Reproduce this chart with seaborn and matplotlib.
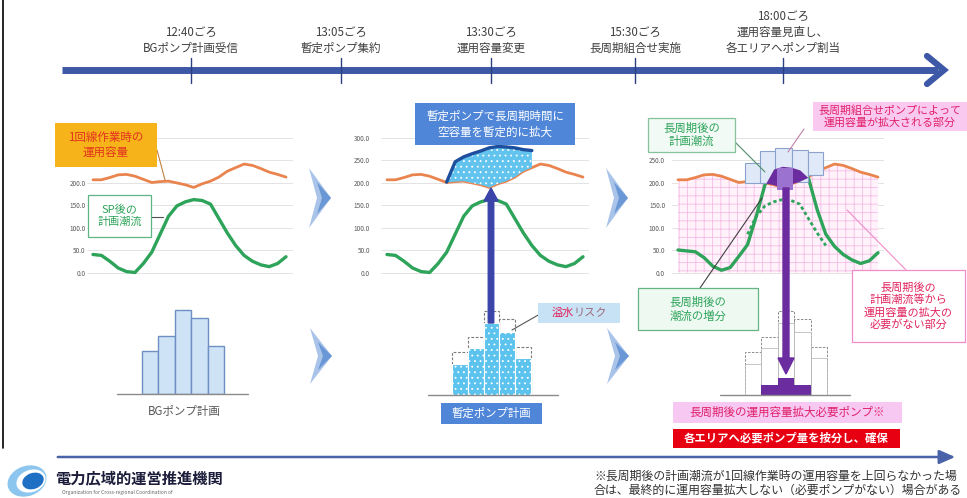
import numpy as np
import pandas as pd
import matplotlib
matplotlib.use("Agg")
import matplotlib.pyplot as plt
import seaborn as sns
from matplotlib.patches import Rectangle, Polygon, FancyArrow, Ellipse

# ---------------- data ----------------
hours = list(range(24))
capacity_1line = [206, 206, 211, 217, 218, 214, 207, 200, 202, 203, 199, 195,
                  189, 197, 203, 212, 225, 233, 241, 238, 231, 223, 218, 212]
flow_sp = [40, 38, 25, 10, 2, 0, 20, 45, 85, 125, 148, 157,
           162, 160, 152, 120, 88, 60, 38, 25, 17, 13, 20, 35]
flow_lp = [50, 48, 46, 33, 14, 5, 11, 36, 62, 125, 195, 230,
           236, 234, 228, 210, 140, 85, 58, 40, 28, 20, 26, 44]
tmp_hours = list(range(7, 18))
tmp_expanded = [201, 246, 257, 264, 270, 277, 280, 279, 277, 273, 271]
dotted_hours = list(range(8, 18))

lp_box_start = [7.7, 9.4, 11.2, 13.1, 14.9]
lp_box_end = [9.8, 11.4, 13.1, 14.9, 16.7]
lp_box_bottom = [198, 200, 196, 202, 216]
lp_box_top = [243, 271, 276, 272, 268]

pump_units = ["U1", "U2", "U3", "U4", "U5"]
bg_plan = [43, 58, 84, 76, 48]
tmp_plan = [31, 47, 72, 63, 37]
lp_need = [0, 10, 17, 10, 0]

y_ticks = [0, 50, 100, 150, 200, 250, 300]

tl_times = ["12:40ごろ", "13:05ごろ", "13:30ごろ", "15:30ごろ", "18:00ごろ"]
tl_events = ["BGポンプ計画受信", "暫定ポンプ集約", "運用容量変更", "長周期組合せ実施",
             "運用容量見直し、\n各エリアへポンプ割当"]

df = pd.DataFrame({"hour": hours, "capacity": capacity_1line,
                   "flow_sp": flow_sp, "flow_lp": flow_lp})
df_tmp = pd.DataFrame({"hour": tmp_hours, "expanded": tmp_expanded,
                       "base": capacity_1line[7:18]})
df_bar = pd.DataFrame({"unit": pump_units, "bg": bg_plan, "tmp": tmp_plan, "need": lp_need})

# ---------------- style ----------------
sns.set_theme(style="white")
plt.rcParams["font.family"] = ["Noto Sans CJK JP", "DejaVu Sans"]
plt.rcParams["hatch.linewidth"] = 0.6

W, H = 967, 498
fig = plt.figure(figsize=(W / 100, H / 100), dpi=100)
fig.patch.set_facecolor("white")

ORANGE = "#ea844f"
GREEN = "#2ea35a"
PURPLE = "#6a2c9f"
NAVY = "#3d58a6"


def px_axes(x0, y0, x1, y1, z=1):
    return fig.add_axes([x0 / W, 1 - y1 / H, (x1 - x0) / W, (y1 - y0) / H], zorder=z)


def line_panel(lx0, lx1, ax0, ax1, pad, covered=()):
    ax = px_axes(ax0, 135.25, ax1, 277)
    step = (lx1 - lx0) / 23
    ax.set_ylim(-10, 305)
    ax.set_yticks(y_ticks)
    # labels that sit under a callout box in the reference are left blank
    ax.set_yticklabels(["" if v in covered else f"{v:.1f}" for v in y_ticks],
                       fontsize=4.6, color="#595959")
    ax.tick_params(axis="y", length=0, pad=pad)
    ax.set_xticks([])
    ax.yaxis.grid(True, color="#dedede", linewidth=0.6)
    ax.set_axisbelow(True)
    for s in ax.spines.values():
        s.set_visible(False)
    ax.patch.set_alpha(0)
    return ax, (-(lx0 - ax0) / step, 23 + (ax1 - lx1) / step)


def finish(ax, xl):
    ax.set_xlim(*xl)
    ax.set_xlabel("")
    ax.set_ylabel("")
    lg = ax.get_legend()
    if lg:
        lg.remove()


# ---- panel 1 ----
ax1, xl1 = line_panel(93, 286, 87, 293, 1, covered=(250, 300))
sns.lineplot(data=df, x="hour", y="capacity", ax=ax1, color=ORANGE, linewidth=2.0, zorder=3)
sns.lineplot(data=df, x="hour", y="flow_sp", ax=ax1, color=GREEN, linewidth=2.4, zorder=3)
finish(ax1, xl1)

# ---- panel 2 ----
ax2, xl2 = line_panel(387, 583, 381, 589, 8)
sns.lineplot(data=df, x="hour", y="capacity", ax=ax2, color=ORANGE, linewidth=2.0, zorder=3)
sns.lineplot(data=df, x="hour", y="flow_sp", ax=ax2, color=GREEN, linewidth=2.4, zorder=3)
ax2.fill_between(df_tmp["hour"], df_tmp["base"], df_tmp["expanded"], facecolor="#62c4ee",
                 edgecolor="white", hatch="...", linewidth=0, zorder=4)
sns.lineplot(data=df_tmp, x="hour", y="expanded", ax=ax2, color="#1d4f9e", linewidth=2.4, zorder=5)
finish(ax2, xl2)

# ---- panel 3 ----
ax3, xl3 = line_panel(678, 878, 672, 884, 5, covered=(300,))
ax3.fill_between(df["hour"], 0, df["capacity"], facecolor="#fff2fb", edgecolor="#f5bde6",
                 hatch="++", linewidth=0, zorder=1)
sns.lineplot(data=df, x="hour", y="capacity", ax=ax3, color=ORANGE, linewidth=2.0, zorder=3)
sub = df[df["hour"].isin(dotted_hours)]
sns.lineplot(data=sub, x="hour", y="flow_sp", ax=ax3, color=GREEN, linewidth=2.0,
             linestyle=(0, (1.2, 1.0)), zorder=4)
sns.lineplot(data=df, x="hour", y="flow_lp", ax=ax3, color=GREEN, linewidth=2.4, zorder=4)
ax3.bar(lp_box_start, np.array(lp_box_top) - np.array(lp_box_bottom),
        width=np.array(lp_box_end) - np.array(lp_box_start), bottom=lp_box_bottom,
        align="edge", color="#e0e9f7", edgecolor="#8aa2cc", linewidth=0.8, zorder=5)
cap = np.array(capacity_1line)
lp = np.array(flow_lp)
ax3.fill_between(hours, cap, lp, where=lp > cap, interpolate=True, color=PURPLE,
                 linewidth=0, zorder=6)
finish(ax3, xl3)


# ---- bar panels ----
def bar_axes(bx0, bx1, bar0, bar1, base):
    ax = px_axes(bx0, base - 100, bx1, base)
    unit = (bar1 - bar0) / 5
    return ax, (-0.5 - (bar0 - bx0) / unit, 4.5 + (bx1 - bar1) / unit)


def bar_finish(ax, xl):
    ax.set_xlim(*xl)
    ax.set_ylim(0, 100)
    ax.axhline(0, color="#8a8a8a", linewidth=1.0, clip_on=False, zorder=6)
    ax.axis("off")


b1, bl1 = bar_axes(117, 248, 142, 224, 394)
sns.barplot(data=df_bar, x="unit", y="bg", ax=b1, color="#cfe3f7", saturation=1,
            edgecolor="#6e8fc4", linewidth=1.0, width=1)
bar_finish(b1, bl1)

b2, bl2 = bar_axes(428, 558, 452, 531, 395)
sns.barplot(data=df_bar, x="unit", y="bg", ax=b2, color="#7a7a7a", fill=False,
            linewidth=0.8, linestyle=(0, (2.5, 1.5)), width=1)
sns.barplot(data=df_bar, x="unit", y="tmp", ax=b2, color="#5cc3ee", saturation=1,
            edgecolor="white", hatch="...", linewidth=0.8, width=1)
bar_finish(b2, bl2)

b3, bl3 = bar_axes(720, 850, 745, 827, 395)
sns.barplot(data=df_bar, x="unit", y="bg", ax=b3, color="#8a8a8a", fill=False,
            linewidth=0.7, linestyle=(0, (2.5, 1.5)), width=1)
sns.barplot(data=df_bar, x="unit", y="tmp", ax=b3, color="#bdbdbd", fill=False,
            linewidth=0.6, width=1)
sns.barplot(data=df_bar, x="unit", y="need", ax=b3, color=PURPLE, saturation=1,
            linewidth=0, width=1)
bar_finish(b3, bl3)

# ---------------- overlay (annotations) ----------------
ov = fig.add_axes([0, 0, 1, 1], zorder=10)
ov.set_xlim(0, W)
ov.set_ylim(H, 0)
ov.axis("off")
ov.patch.set_alpha(0)


def tbox(x0, y0, x1, y1, text, fc, ec="none", tc="black", fs=8.3, weight="normal", lw=0.9, ls=1.25):
    ov.add_patch(Rectangle((x0, y0), x1 - x0, y1 - y0, facecolor=fc, edgecolor=ec,
                           linewidth=lw, zorder=3))
    ov.text((x0 + x1) / 2, (y0 + y1) / 2, text, ha="center", va="center", color=tc,
            fontsize=fs, fontweight=weight, linespacing=ls, zorder=4)


def leader(x0, y0, x1, y1, c, lw=0.8):
    ov.plot([x0, x1], [y0, y1], color=c, linewidth=lw, zorder=2.5)


# left border
ov.plot([2.5, 2.5], [0, 448], color="black", linewidth=1.2)

# timeline
tl_x = [191, 341, 491, 635, 783]
ov.plot([62, 938], [70, 70], color=NAVY, linewidth=5, solid_capstyle="butt", zorder=2)
ov.plot([927, 944, 927], [56, 70, 84], color=NAVY, linewidth=4.5, solid_joinstyle="miter", zorder=2)
for x, t, e in zip(tl_x, tl_times, tl_events):
    ov.plot([x, x], [58, 83], color="#2c3f80", linewidth=1.0, zorder=3)
    ov.text(x, 55, t + "\n" + e, ha="center", va="bottom", fontsize=8.3, color="#404040",
            linespacing=1.3)

# chevrons
for (x0, yt, yb) in [(309, 168, 228), (606, 168, 228), (310, 328, 384), (607, 328, 384)]:
    ym = (yt + yb) / 2
    ov.add_patch(Polygon([(x0, yt), (x0 + 22, ym), (x0, yb), (x0 + 8, ym)], closed=True,
                         facecolor="#a9c4e8", edgecolor="none", zorder=1))
    ov.add_patch(Polygon([(x0 + 8, yt + 14), (x0 + 22, ym), (x0 + 8, yb - 14), (x0 + 13, ym)],
                         closed=True, facecolor="#6a97d5", edgecolor="none", zorder=1.2))

# panel 1 callouts
leader(157, 150, 165, 180, "#c08040")
tbox(55, 123, 157, 167, "1回線作業時の\n運用容量", "#f7b31a", tc="#e2331f", fs=8.3)
leader(151, 217, 163, 217, "#505050")
tbox(88, 195, 151, 237, "SP後の\n計画潮流", "white", ec="#5cb582", tc=GREEN, fs=8.0)
ov.text(184, 411, "BGポンプ計画", ha="center", va="center", fontsize=8.3, color="#595959")

# panel 2 annotations
tbox(415, 103, 575, 145, "暫定ポンプで長周期時間に\n空容量を暫定的に拡大", "#4f86d8", tc="white", fs=8.3)
ov.add_patch(FancyArrow(491, 323, 0, -135, width=5.5, head_width=14, head_length=13,
                        length_includes_head=True, color="#3b44a8", zorder=5))
leader(512, 330, 540, 314, "#555555")
tbox(538, 303, 620, 323, "", "#c8e2f5")
ov.text(574, 313, "溢水", ha="right", va="center", fontsize=8.0, color="#e0245e", zorder=5)
ov.text(574, 313, "リスク", ha="left", va="center", fontsize=8.0, color="#9a6a7a", zorder=5)
tbox(441, 403, 542, 424, "暫定ポンプ計画", "#4f86d8", tc="white", fs=8.2)

# panel 3 annotations
leader(733, 140, 765, 172, "#4f8f6a")
tbox(648, 118, 735, 152, "長周期後の\n計画潮流", "#f1faf4", ec="#86c29c", tc=GREEN, fs=8.2)
leader(804, 129, 788, 152, "#c080a8")
tbox(813, 102, 967, 131, "長周期組合せポンプによって\n運用容量が拡大される部分", "#f9c9ef",
     tc="#e0206a", fs=7.9, ls=1.2)
ov.add_patch(Rectangle((777, 168), 16, 22, facecolor="#9b72d0", edgecolor="none", zorder=4))
ov.add_patch(FancyArrow(786, 188, 0, 186, width=6, head_width=16, head_length=16,
                        length_includes_head=True, color=PURPLE, zorder=5))
leader(700, 288, 762, 198, "#404040")
tbox(638, 288, 758, 330, "長周期後の\n潮流の増分", "#eef9f2", ec="#66b383", tc=GREEN, fs=8.2)
leader(907, 271, 847, 210, "#f08cc8")
tbox(852, 270, 965, 342, "長周期後の\n計画潮流等から\n運用容量の拡大の\n必要がない部分", "white",
     ec="#f08cc8", tc="#e0245e", fs=8.0, ls=1.22)
tbox(673, 402, 902, 423, "長周期後の運用容量拡大必要ポンプ※", "#f6c8f2", tc="#e0206a", fs=8.3)
tbox(673, 429, 900, 448, "各エリアへ必要ポンプ量を按分し、確保", "#e60012", tc="white",
     fs=8.2, weight="bold")

# bottom rule with arrow
ov.annotate("", xy=(958, 457), xytext=(55, 457),
            arrowprops=dict(arrowstyle="-|>,head_width=0.35,head_length=0.8",
                            color="#4a62a8", lw=1.8))

# logo + organisation name
ov.add_patch(Ellipse((27, 481), 40, 30, angle=-20, facecolor="#8cc6ef", edgecolor="none"))
ov.add_patch(Ellipse((31, 481), 30, 22, angle=-20, facecolor="white", edgecolor="none"))
ov.add_patch(Ellipse((33, 481), 22, 16, angle=-20, facecolor="#1f6fc5", edgecolor="none"))
ov.text(55, 478, "電力広域的運営推進機関", ha="left", va="center", fontsize=11,
        fontweight="bold", color="#1b1b3a")
ov.text(62, 492, "Organization for Cross-regional Coordination of", ha="left", va="center",
        fontsize=3.6, color="#666666")

# footnote
ov.text(594, 476, "※長周期後の計画潮流が1回線作業時の運用容量を上回らなかった場",
        ha="left", va="center", fontsize=8.6, color="#333333")
ov.text(594, 490, "合は、最終的に運用容量拡大しない（必要ポンプがない）場合がある",
        ha="left", va="center", fontsize=8.6, color="#333333")

fig.savefig("out.png", dpi=100, facecolor="white")
